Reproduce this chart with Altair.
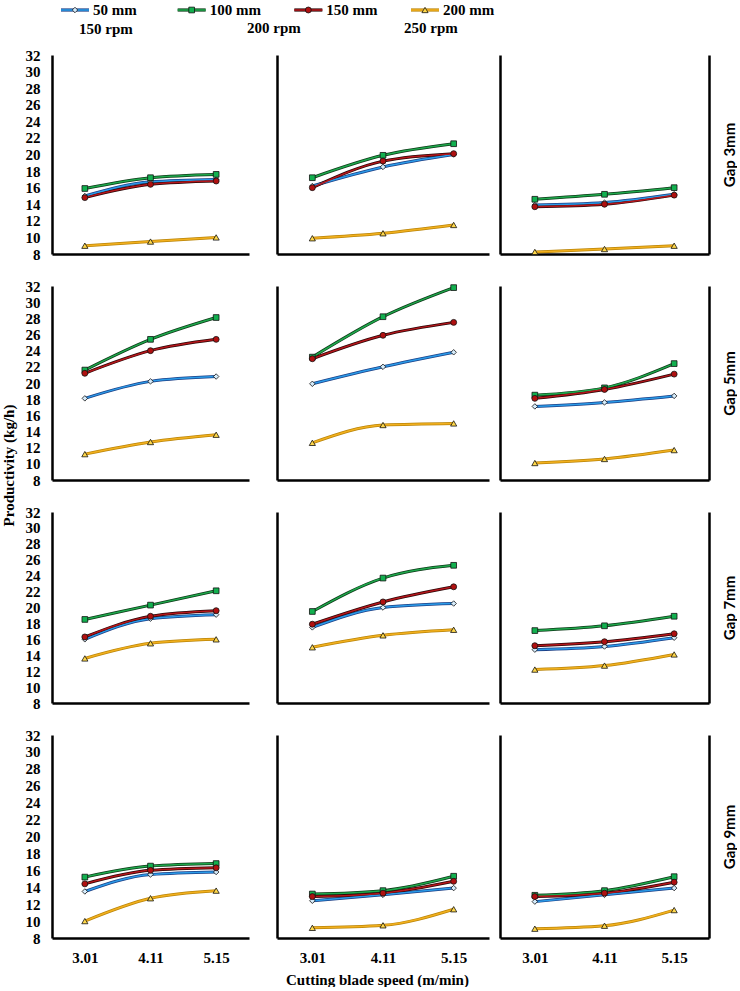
import altair as alt
import pandas as pd

speeds = ["3.01", "4.11", "5.15"]
series = ["50 mm", "100 mm", "150 mm", "200 mm"]
rpms = ["150 rpm", "200 rpm", "250 rpm"]
gaps = ["Gap 3mm", "Gap 5mm", "Gap 7mm", "Gap 9mm"]

# values per panel: [50 mm, 100 mm, 150 mm, 200 mm] x [3.01, 4.11, 5.15]
gap3_rpm150 = [[15.0, 16.7, 17.0], [15.9, 17.2, 17.6], [14.8, 16.4, 16.8], [9.0, 9.5, 10.0]]
gap3_rpm200 = [[16.2, 18.5, 20.0], [17.2, 19.9, 21.3], [16.0, 19.2, 20.1], [9.9, 10.5, 11.5]]
gap3_rpm250 = [[13.9, 14.2, 15.2], [14.6, 15.2, 16.0], [13.7, 14.0, 15.1], [8.25, 8.6, 9.0]]
gap5_rpm150 = [[18.1, 20.2, 20.8], [21.6, 25.4, 28.1], [21.2, 24.0, 25.4], [11.2, 12.7, 13.6]]
gap5_rpm200 = [[19.9, 22.0, 23.8], [23.2, 28.2, 31.8], [23.0, 25.9, 27.5], [12.6, 14.8, 15.0]]
gap5_rpm250 = [[17.1, 17.6, 18.4], [18.5, 19.4, 22.4], [18.1, 19.2, 21.1], [10.1, 10.6, 11.7]]
gap7_rpm150 = [[16.0, 18.6, 19.1], [18.5, 20.3, 22.1], [16.3, 18.9, 19.6], [13.6, 15.5, 16.0]]
gap7_rpm200 = [[17.5, 20.0, 20.5], [19.5, 23.7, 25.3], [17.9, 20.7, 22.6], [15.0, 16.5, 17.2]]
gap7_rpm250 = [[14.7, 15.1, 16.2], [17.1, 17.7, 18.9], [15.2, 15.7, 16.7], [12.2, 12.7, 14.1]]
gap9_rpm150 = [[13.5, 15.5, 15.8], [15.2, 16.5, 16.8], [14.4, 16.0, 16.3], [10.0, 12.7, 13.6]]
gap9_rpm200 = [[12.4, 13.1, 13.9], [13.2, 13.6, 15.3], [12.9, 13.3, 14.7], [9.2, 9.5, 11.4]]
gap9_rpm250 = [[12.3, 13.1, 13.9], [13.05, 13.6, 15.25], [12.9, 13.3, 14.6], [9.1, 9.45, 11.3]]

panels = [
    [gap3_rpm150, gap3_rpm200, gap3_rpm250],
    [gap5_rpm150, gap5_rpm200, gap5_rpm250],
    [gap7_rpm150, gap7_rpm200, gap7_rpm250],
    [gap9_rpm150, gap9_rpm200, gap9_rpm250],
]

SERIF = "Liberation Serif"
SANS = "Lato"

line_colors = ["#2a9be8", "#1fa84c", "#b5161b", "#f2b01e"]
outline_colors = ["#1b3f86", "#0b3a17", "#2a0505", "#b98408"]
fill_colors = ["#d6ecfb", "#12b04f", "#b01010", "#ffd84a"]
shapes = ["diamond", "square", "circle", "triangle-up"]
sizes = [30, 38, 36, 30]

col_widths = [197, 212, 209]
row_heights = [199, 194, 191, 203]
header_dx = [27, -30, -96]
header_offset = [4, 12, 12]

stroke_scale = alt.Scale(domain=series, range=outline_colors)
color_scale = alt.Scale(domain=series, range=line_colors)
fill_scale = alt.Scale(domain=series, range=fill_colors)
shape_scale = alt.Scale(domain=series, range=shapes)
size_scale = alt.Scale(domain=series, range=sizes)
y_scale = alt.Scale(domain=[8, 32], nice=False, zero=False)
x_scale = alt.Scale(type="point", domain=speeds, padding=0.5)


def make_panel(vals, r, c):
    recs = []
    for i, s in enumerate(series):
        for j, sp in enumerate(speeds):
            recs.append({"series": s, "speed": sp, "value": vals[i][j]})
    df = pd.DataFrame(recs)

    xax = dict(domain=True, domainColor="black", domainWidth=2.5, ticks=False,
               grid=False, labels=(r == 3), labelAngle=0)
    if r == 3:
        xax.update(labelFont=SERIF, labelFontWeight="bold", labelFontSize=15,
                   labelColor="black", labelPadding=12)
    if r == 3 and c == 1:
        xax.update(title="Cutting blade speed (m/min)", titleFont=SERIF,
                   titleFontWeight="bold", titleFontSize=15, titleColor="black",
                   titlePadding=7, titleX=100)
    else:
        xax["title"] = None

    yax = dict(domain=True, domainColor="black", domainWidth=2.5, ticks=False,
               grid=False, labels=(c == 0), values=list(range(8, 33, 2)))
    if c == 0:
        yax.update(labelFont=SERIF, labelFontWeight="bold", labelFontSize=15,
                   labelColor="black", labelPadding=12)
    if r == 1 and c == 0:
        yax.update(title="Productivity (kg/h)", titleFont=SERIF, titleFontWeight="bold",
                   titleFontSize=15, titleColor="black", titleAngle=270,
                   titleAlign="center", titleBaseline="middle", titleX=-44, titleY=179)
    else:
        yax["title"] = None

    base = alt.Chart(df).encode(
        x=alt.X("speed:O", scale=x_scale, axis=alt.Axis(**xax)),
        y=alt.Y("value:Q", scale=y_scale, axis=alt.Axis(**yax)),
    )
    outline = base.mark_line(interpolate="monotone", strokeWidth=3.0).encode(
        stroke=alt.Stroke("series:N", scale=stroke_scale, legend=None)
    )
    main = base.mark_line(interpolate="monotone", strokeWidth=1.5).encode(
        color=alt.Color("series:N", scale=color_scale, legend=None)
    )
    pts_enc = dict(
        shape=alt.Shape("series:N", scale=shape_scale, legend=None),
        fill=alt.Fill("series:N", scale=fill_scale, legend=None),
        size=alt.Size("series:N", scale=size_scale, legend=None),
    )
    if c == 2:
        pts_enc["y"] = alt.Y("value:Q", scale=y_scale, axis=alt.Axis(
            orient="right", domain=False, ticks=False, labels=False, grid=False,
            title=gaps[r], titleFont=SANS, titleFontWeight="bold", titleFontSize=15,
            titleColor="black", titleAngle=270, titleAlign="center",
            titleBaseline="middle", titleX=20, titleY=row_heights[r] / 2))
    pts = base.mark_point(filled=True, stroke="#111111", strokeWidth=0.8,
                          opacity=1).encode(**pts_enc)

    layer = alt.layer(outline, main, pts)
    if c == 2:
        layer = layer.resolve_scale(y="independent")
    props = dict(width=col_widths[c], height=row_heights[r])
    if r == 0:
        props["title"] = alt.TitleParams(
            text=rpms[c], anchor="start", frame="group", dx=header_dx[c],
            baseline="middle", font=SERIF, fontWeight="bold", fontSize=15,
            color="black", offset=header_offset[c])
    return layer.properties(**props)


def make_spacer(r):
    return alt.Chart(pd.DataFrame({"s": [0]})).mark_point(opacity=0).encode(
        x=alt.value(0), y=alt.value(0)).properties(width=6, height=row_heights[r])


cells = []
for r in range(4):
    cells.append(make_panel(panels[r][0], r, 0))
    cells.append(make_spacer(r))
    cells.append(make_panel(panels[r][1], r, 1))
    cells.append(make_panel(panels[r][2], r, 2))

grid = alt.ConcatChart(concat=cells, columns=4, spacing={"row": 32, "column": 11},
                       bounds="flush", align="each")

# legend
leg_df = pd.DataFrame({"series": series})
leg_x = alt.X("series:N", scale=alt.Scale(type="point", domain=series, range=[23, 373],
                                          padding=0), axis=None)
leg_base = alt.Chart(leg_df).encode(x=leg_x)
leg_outline = leg_base.mark_rule(xOffset=-14, x2Offset=14, strokeWidth=3.2).encode(
    x2="series:N", y=alt.value(10),
    stroke=alt.Stroke("series:N", scale=stroke_scale, legend=None))
leg_main = leg_base.mark_rule(xOffset=-14, x2Offset=14, strokeWidth=1.6).encode(
    x2="series:N", y=alt.value(10),
    color=alt.Color("series:N", scale=color_scale, legend=None))
leg_pts = leg_base.mark_point(filled=True, stroke="#111111", strokeWidth=0.8, opacity=1).encode(
    y=alt.value(10),
    shape=alt.Shape("series:N", scale=shape_scale, legend=None),
    fill=alt.Fill("series:N", scale=fill_scale, legend=None),
    size=alt.Size("series:N", scale=size_scale, legend=None))
leg_text = leg_base.mark_text(align="left", baseline="middle", dx=18, font=SERIF,
                              fontWeight="bold", fontSize=15, color="black").encode(
    y=alt.value(10), text="series:N")
legend = alt.layer(leg_outline, leg_main, leg_pts, leg_text).properties(width=470, height=20)

chart = alt.VConcatChart(vconcat=[legend, grid], spacing=1).properties(
    padding={"left": 1, "top": 0, "right": 0, "bottom": 0}
).configure(background="white", view=alt.ViewConfig(stroke="transparent", strokeWidth=0))

chart.save("out.html", embed_options={"renderer": "svg", "actions": False})
